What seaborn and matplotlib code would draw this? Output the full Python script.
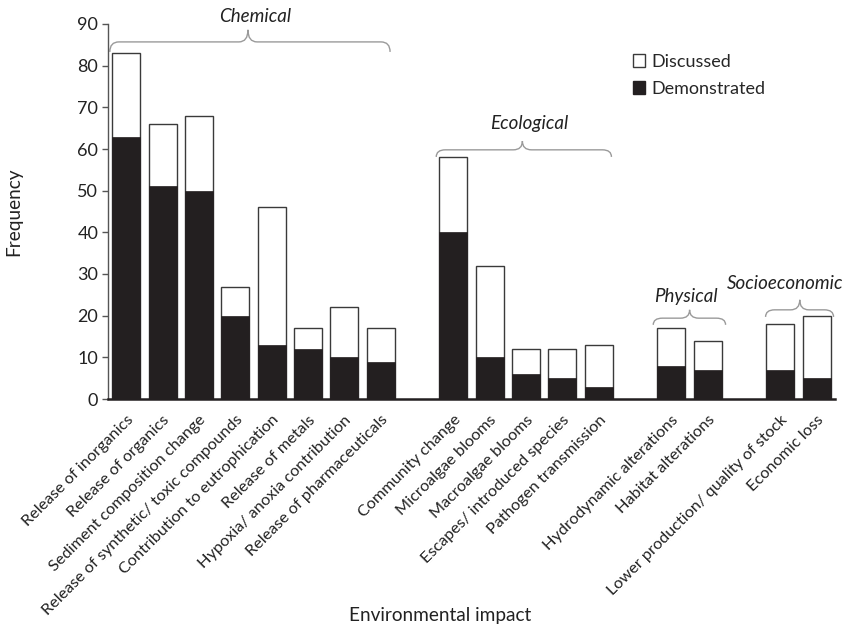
import numpy as np
import pandas as pd
import matplotlib
matplotlib.use("Agg")
import matplotlib.pyplot as plt
from matplotlib.path import Path
from matplotlib.patches import PathPatch, Patch
import seaborn as sns

# impact categories, grouped
chemical = ['Release of inorganics', 'Release of organics', 'Sediment composition change',
            'Release of synthetic/ toxic compounds', 'Contribution to eutrophication',
            'Release of metals', 'Hypoxia/ anoxia contribution', 'Release of pharmaceuticals']
ecological = ['Community change', 'Microalgae blooms', 'Macroalgae blooms',
              'Escapes/ introduced species', 'Pathogen transmission']
physical = ['Hydrodynamic alterations', 'Habitat alterations']
socioeconomic = ['Lower production/ quality of stock', 'Economic loss']
group_names = ['Chemical', 'Ecological', 'Physical', 'Socioeconomic']

# total frequency (discussed + demonstrated) and demonstrated frequency
total = [83, 66, 68, 27, 46, 17, 22, 17,
         58, 32, 12, 12, 13,
         17, 14,
         18, 20]
demonstrated = [63, 51, 50, 20, 13, 12, 10, 9,
                40, 10, 6, 5, 3,
                8, 7,
                7, 5]

groups = [chemical, ecological, physical, socioeconomic]
rows = []
slot = 0
for name, cats in zip(group_names, groups):
    for c in cats:
        rows.append({'impact': c, 'group': name, 'pos': slot})
        slot += 1
    slot += 1  # empty slot between groups
df = pd.DataFrame(rows)
df['total'] = total
df['demonstrated'] = demonstrated

sns.set_theme(style='white')
plt.rcParams['font.family'] = ['Lato', 'DejaVu Sans']

black = '#231f20'
edge = '#3a3a3a'
txt = '#222222'

fig = plt.figure(figsize=(8.44, 6.28), dpi=100)
ax = fig.add_axes([108 / 844, 1 - 399 / 628, 727 / 844, 375 / 628])

sns.barplot(data=df, x='pos', y='total', native_scale=True, color='white',
            edgecolor=edge, linewidth=1.0, width=0.77, saturation=1, ax=ax)
sns.barplot(data=df, x='pos', y='demonstrated', native_scale=True, color=black,
            edgecolor=black, linewidth=0.5, width=0.77, saturation=1, ax=ax)

ax.set_xlim(-0.5, 19.5)
ax.set_ylim(0, 90)
ax.set_yticks(np.arange(0, 91, 10))
ax.set_xticks(df['pos'])
ax.set_xticklabels(df['impact'], rotation=45, ha='right', rotation_mode='anchor',
                   fontsize=11.7, color=txt)
ax.tick_params(axis='y', left=True, length=4, width=1, color='#555555',
               labelsize=13, labelcolor=txt, pad=3)
ax.tick_params(axis='x', bottom=False, pad=4)
for s in ['top', 'right']:
    ax.spines[s].set_visible(False)
ax.spines['left'].set_color('#555555')
ax.spines['left'].set_linewidth(1)
ax.spines['bottom'].set_color(black)
ax.spines['bottom'].set_linewidth(1.8)

ax.set_ylabel('Frequency', fontsize=13.7, color=txt)
ax.set_xlabel('Environmental impact', fontsize=13.7, color=txt, va='center')
ax.xaxis.set_label_coords((440 - 108) / 727, -(615 - 399) / 375)
ax.yaxis.set_label_coords(-(108 - 22) / 727, 0.5)


def brace(ax, x0, x1, xm, y, yend, ypeak, r=0.25):
    verts = [(x0, yend), (x0, y), (x0 + r, y),
             (xm - r, y), (xm, y), (xm, ypeak),
             (xm, y), (xm + r, y),
             (x1 - r, y), (x1, y), (x1, yend)]
    codes = [Path.MOVETO, Path.CURVE3, Path.CURVE3,
             Path.LINETO, Path.CURVE3, Path.CURVE3,
             Path.CURVE3, Path.CURVE3,
             Path.LINETO, Path.CURVE3, Path.CURVE3]
    ax.add_patch(PathPatch(Path(verts, codes), fill=False, edgecolor='#9a9a9a',
                           linewidth=1.0, clip_on=False))


# brace annotations: (x0, x1, xmid, y flat, y ends, y peak, text x, text y)
braces = [(-0.45, 7.26, 3.35, 85.7, 83.3, 88.6, 3.54, 91.7),
          (8.53, 13.35, 10.9, 59.8, 58.1, 61.9, 11.09, 66.2),
          (14.5, 16.49, 15.5, 19.4, 17.8, 21.4, 15.39, 24.5),
          (17.59, 19.46, 18.53, 21.4, 19.7, 23.8, 18.14, 27.8)]
for name, (x0, x1, xm, y, ye, yp, tx, ty) in zip(group_names, braces):
    brace(ax, x0, x1, xm, y, ye, yp)
    ax.text(tx, ty, name, style='italic', fontsize=13.5, color=txt,
            ha='center', va='center', clip_on=False)

handles = [Patch(facecolor='white', edgecolor=edge, linewidth=1, label='Discussed'),
           Patch(facecolor=black, edgecolor=black, label='Demonstrated')]
ax.legend(handles=handles, loc='upper left', bbox_to_anchor=(0.712, 0.94),
          frameon=False, fontsize=13, handlelength=0.7, handleheight=0.7,
          handletextpad=0.3, labelspacing=0.6, borderaxespad=0)

fig.savefig('out.png', dpi=100)
